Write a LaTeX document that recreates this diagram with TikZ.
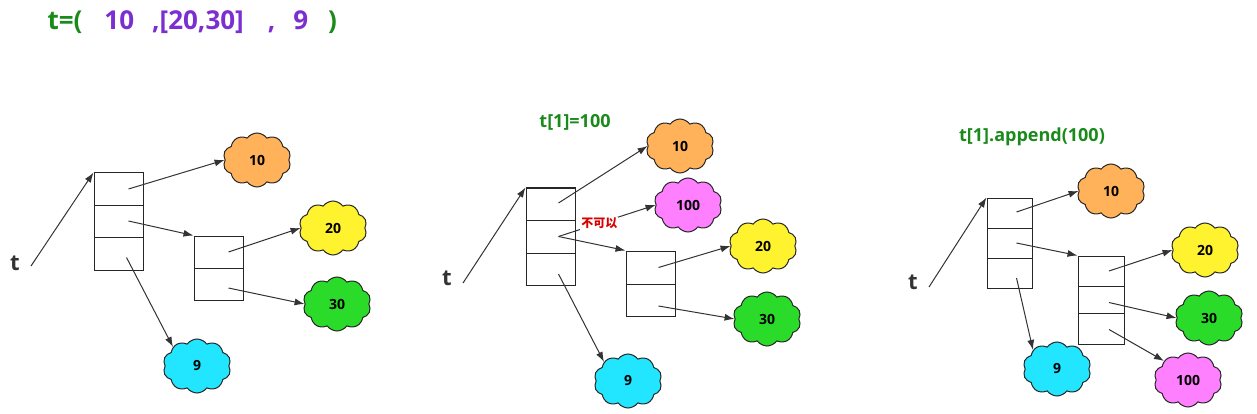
\documentclass[tikz,border=0pt]{standalone}
\usepackage{fontspec}
\setmainfont{Open Sans}
\newfontfamily\cjk{Noto Sans CJK SC}
\usetikzlibrary{shapes.symbols,arrows.meta}
\definecolor{cor}{HTML}{FFB25A}
\definecolor{cye}{HTML}{FFF22E}
\definecolor{cgr}{HTML}{2ADB2A}
\definecolor{ccy}{HTML}{22E5FF}
\definecolor{cmg}{HTML}{FF80FF}
\definecolor{tgreen}{HTML}{1A8A1A}
\definecolor{tpurple}{HTML}{7B2FD0}
\tikzset{
  cl/.style={cloud, cloud puffs=10, cloud puff arc=110, aspect=1.3, draw=black!85, line width=1pt, fill=#1, minimum width=68pt, minimum height=54pt, inner sep=0pt, font=\bfseries\fontsize{14}{14}\selectfont},
  cell/.style={draw=black!85, line width=1pt, minimum width=#1, inner sep=0pt},
  arr/.style={-{Latex[length=10pt,width=7pt]}, line width=1pt, draw=black!80},
  tt/.style={font=\bfseries\fontsize{22}{22}\selectfont, text=black!80},
  ttl/.style={font=\bfseries\fontsize{18}{18}\selectfont, text=tgreen},
}
\begin{document}
\begin{tikzpicture}[x=1pt,y=-1pt]
\useasboundingbox (0,0) rectangle (1257,414);
% top title
\node[anchor=west, font=\bfseries\fontsize{26}{26}\selectfont] (title) at (44,22) {\textcolor{tgreen}{t=(}\hspace{22pt}\textcolor{tpurple}{10\hspace{18pt},[20,30]\hspace{24pt},\hspace{18pt}9}\hspace{20pt}\textcolor{tgreen}{)}};

% ---------- panel 1
\node[tt] (t1) at (15,263) {t};
\node[cell=49pt, minimum height=32pt] (a1) at (118.5,189) {};
\node[cell=49pt, minimum height=32pt] (a2) at (118.5,221) {};
\node[cell=49pt, minimum height=33pt] (a3) at (118.5,253.5) {};
\node[cell=49pt, minimum height=32pt] (b1) at (218.5,252) {};
\node[cell=49pt, minimum height=32pt] (b2) at (218.5,284) {};
\node[cl=cor] (c10) at (257,160) {10};
\node[cl=cye] (c20) at (333,228) {20};
\node[cl=cgr] (c30) at (337,304) {30};
\node[cl=ccy] (c9) at (197,366) {9};
\draw[arr] ([xshift=16pt,yshift=-3pt]t1.center) -- (a1.north west);
\draw[arr] ([xshift=10pt,yshift=0pt]a1.center) -- (c10.west);
\draw[arr] ([xshift=10pt]a2.center) -- (b1.north west);
\draw[arr] ([xshift=8pt,yshift=-4pt]a3.center) -- (c9.north west);
\draw[arr] ([xshift=10pt]b1.center) -- (c20.west);
\draw[arr] ([xshift=10pt,yshift=-4pt]b2.center) -- (c30.west);

% ---------- panel 2
\node[ttl] (h2) at (575,122) {t[1]=100};
\node[tt] (t2) at (447,278) {t};
\node[cell=49pt, minimum height=32pt] (p1) at (550.5,204) {};
\node[cell=49pt, minimum height=33pt] (p2) at (550.5,236.5) {};
\node[cell=49pt, minimum height=32pt] (p3) at (550.5,269) {};
\node[cell=49pt, minimum height=33pt] (q1) at (650.5,267.5) {};
\node[cell=49pt, minimum height=32pt] (q2) at (650.5,300) {};
\node[cl=cor] (d10) at (680,146) {10};
\node[cl=cmg] (d100) at (688,205) {100};
\node[cl=cye] (d20) at (763,246) {20};
\node[cl=cgr] (d30) at (767,319) {30};
\node[cl=ccy] (d9) at (628,381) {9};
\draw[arr] ([xshift=16pt,yshift=-5pt]t2.center) -- (p1.north west);
\draw[arr] ([xshift=8pt,yshift=1pt]p1.center) -- (d10.west);
\draw[arr] ([xshift=8pt]p2.center) -- node[pos=0.42, fill=white, inner sep=1pt, font=\cjk\bfseries\fontsize{12}{12}\selectfont, text=red!85!black] (nk) {不可以} (d100.west);
\draw[arr] ([xshift=8pt]p2.center) -- (q1.north west);
\draw[arr] ([xshift=8pt,yshift=-5pt]p3.center) -- (d9.north west);
\draw[arr] ([xshift=8pt]q1.center) -- (d20.west);
\draw[arr] ([xshift=8pt,yshift=-6pt]q2.center) -- (d30.west);

% ---------- panel 3
\node[ttl] (h3) at (1032,137) {t[1].append(100)};
\node[tt] (t3) at (913,282) {t};
\node[cell=45pt, minimum height=30pt] (r1) at (1009.5,213) {};
\node[cell=45pt, minimum height=30pt] (r2) at (1009.5,243) {};
\node[cell=45pt, minimum height=30pt] (r3) at (1009.5,273) {};
\node[cell=46pt, minimum height=30pt] (s1) at (1101,271) {};
\node[cell=46pt, minimum height=27pt] (s2) at (1101,299.5) {};
\node[cell=46pt, minimum height=31pt] (s3) at (1101,328.5) {};
\node[cl=cor] (e10) at (1111,191) {10};
\node[cl=cye] (e20) at (1205,250) {20};
\node[cl=cgr] (e30) at (1209,318) {30};
\node[cl=ccy] (e9) at (1057,369) {9};
\node[cl=cmg] (e100) at (1188,380) {100};
\draw[arr] ([xshift=16pt,yshift=-5pt]t3.center) -- (r1.north west);
\draw[arr] ([xshift=7pt,yshift=1pt]r1.center) -- (e10.west);
\draw[arr] ([xshift=7pt]r2.center) -- (s1.north west);
\draw[arr] ([xshift=7pt,yshift=-5pt]r3.center) -- (e9.north west);
\draw[arr] ([xshift=8pt]s1.center) -- (e20.west);
\draw[arr] ([xshift=8pt,yshift=-3pt]s2.center) -- (e30.west);
\draw[arr] ([xshift=8pt,yshift=-1pt]s3.center) -- (e100.north west);
\end{tikzpicture}
\end{document}
